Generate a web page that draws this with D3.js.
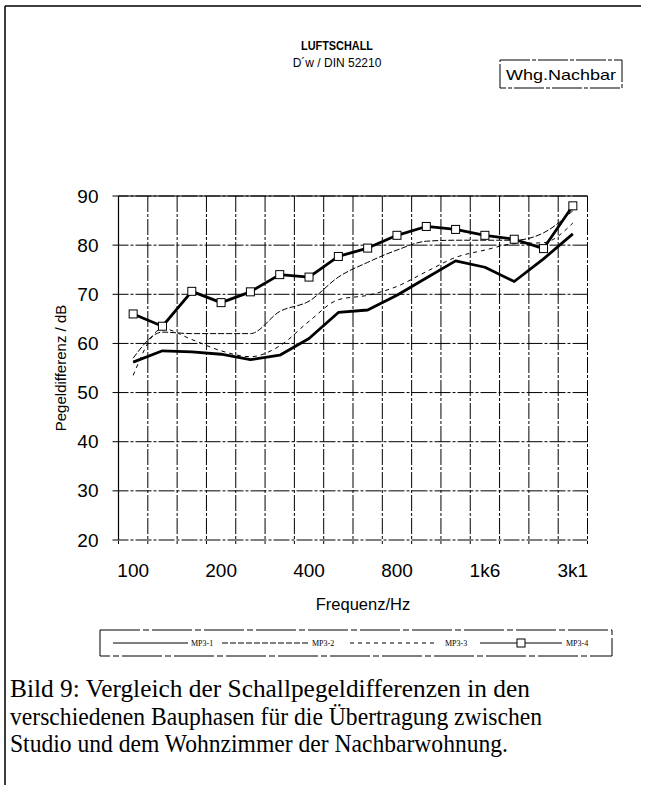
<!DOCTYPE html>
<meta charset="utf-8">
<style>
body { margin: 0; background: #fff; }
svg text { font-family: "Liberation Sans", Arial, sans-serif; fill: #000; }
.caption { font-family: "Liberation Serif", "Times New Roman", serif; font-size: 24.5px; }
.legend text { font-family: "Liberation Serif", serif; font-size: 8px; }
.grid line { stroke: #000; stroke-width: 1; stroke-dasharray: 16,2,3,2; }
</style>
<script src="https://d3js.org/d3.v7.min.js"></script>
<body>
<script>

// third-octave bands (categories)
var freqs = ["100","125","160","200","250","315","400","500","630","800","1000","1250","1600","2000","2500","3150"];
var freqLabels = ["100","","","200","","","400","","","800","","","1k6","","","3k1"];
var dbTicks = [20,30,40,50,60,70,80,90];

// Pegeldifferenz / dB
var mp31 = [56.2,58.5,58.3,57.8,56.7,57.6,61.0,66.3,66.8,69.8,73.3,76.8,75.5,72.6,77.2,82.3];
var mp32 = [57.0,62.3,62.0,62.0,62.0,66.5,68.6,73.5,76.5,79.0,80.8,81.0,81.0,81.0,82.5,87.0];
var mp33 = [53.5,63.0,60.8,58.5,57.3,59.5,64.5,68.9,69.8,71.6,74.6,77.5,79.0,80.3,80.5,84.5];
var mp34 = [66.0,63.5,70.6,68.3,70.5,74.0,73.5,77.7,79.4,82.0,83.8,83.2,82.0,81.2,79.3,88.0];

var series = [
  {name: "MP3-1", values: mp31, width: 2.8, dash: null, marker: false},
  {name: "MP3-2", values: mp32, width: 1, dash: "6,2", marker: false},
  {name: "MP3-3", values: mp33, width: 1, dash: "4,4", marker: false},
  {name: "MP3-4", values: mp34, width: 2.8, dash: null, marker: true}
];

var W = 645, H = 785;
var svg = d3.select("body").append("svg")
    .attr("width", W)
    .attr("height", H);

// frame of the figure
svg.append("line").attr("x1", 5).attr("y1", 6).attr("x2", 641).attr("y2", 6)
   .attr("stroke", "#000").attr("stroke-width", 1.5);
svg.append("line").attr("x1", 5).attr("y1", 6).attr("x2", 5).attr("y2", H)
   .attr("stroke", "#000").attr("stroke-width", 1.5);

// titles
svg.append("text").attr("x", 337).attr("y", 50).attr("text-anchor", "middle")
   .style("font-size", "12px").style("font-weight", "bold")
   .attr("textLength", 72).attr("lengthAdjust", "spacingAndGlyphs").text("LUFTSCHALL");
svg.append("text").attr("x", 337).attr("y", 67).attr("text-anchor", "middle")
   .style("font-size", "12px").text("D´w / DIN 52210");

svg.append("rect").attr("x", 500).attr("y", 60).attr("width", 122).attr("height", 28)
   .attr("fill", "none").attr("stroke", "#000").attr("stroke-dasharray", "30,2,4,2");
svg.append("text").attr("x", 561).attr("y", 80).attr("text-anchor", "middle")
   .attr("textLength", 110).attr("lengthAdjust", "spacingAndGlyphs")
   .style("font-size", "15px").text("Whg.Nachbar");

// scales
var plotL = 118.5, plotR = 587.5, plotT = 196, plotB = 540;
var x = d3.scaleBand().domain(freqs).range([plotL, plotR]).padding(0);
var y = d3.scaleLinear().domain([20, 90]).range([plotB, plotT]);
var cx = function(i) { return x(freqs[i]) + x.bandwidth() / 2; };

// grid
var grid = svg.append("g").attr("class", "grid");
grid.selectAll("line.h").data(dbTicks).enter().append("line")
    .attr("class", "h")
    .attr("x1", plotL - 6).attr("x2", plotR)
    .attr("y1", function(d) { return y(d); })
    .attr("y2", function(d) { return y(d); });
var edges = freqs.map(function(f) { return x(f); }).concat([plotR]);
grid.selectAll("line.v").data(edges).enter().append("line")
    .attr("class", "v")
    .attr("x1", function(d) { return d; }).attr("x2", function(d) { return d; })
    .attr("y1", plotT).attr("y2", plotB + 4);

// axis lines
svg.append("line").attr("x1", plotL).attr("x2", plotL).attr("y1", plotT).attr("y2", plotB)
   .attr("stroke", "#000").attr("stroke-width", 1.2);
svg.append("line").attr("x1", plotL).attr("x2", plotR).attr("y1", plotT).attr("y2", plotT)
   .attr("stroke", "#000").attr("stroke-width", 1.2);

// tick labels
var yAxis = d3.axisLeft(y).tickValues(dbTicks).tickSize(0).tickPadding(20);
svg.append("g").attr("transform", "translate(" + plotL + ",0)")
   .call(yAxis)
   .call(function(g) { g.select(".domain").remove(); })
   .selectAll("text").style("font-size", "19px").style("font-family", "Liberation Sans, Arial, sans-serif");

var xAxis = d3.axisBottom(x).tickSize(0).tickPadding(24)
   .tickFormat(function(d, i) { return freqLabels[i]; });
svg.append("g").attr("transform", "translate(0," + plotB + ")")
   .call(xAxis)
   .call(function(g) { g.select(".domain").remove(); })
   .selectAll("text").style("font-size", "19px").style("font-family", "Liberation Sans, Arial, sans-serif");

// axis titles
svg.append("text").attr("transform", "translate(66," + ((plotT + plotB) / 2) + ") rotate(-90)")
   .attr("text-anchor", "middle").style("font-size", "15px").text("Pegeldifferenz / dB");
svg.append("text").attr("x", 363).attr("y", 610).attr("text-anchor", "middle")
   .style("font-size", "16.5px").text("Frequenz/Hz");

// series: thick ones drawn straight, thin ones smoothed
var lineStraight = d3.line()
    .x(function(d, i) { return cx(i); })
    .y(function(d) { return y(d); });
var lineSmooth = d3.line()
    .x(function(d, i) { return cx(i); })
    .y(function(d) { return y(d); })
    .curve(d3.curveMonotoneX);

series.forEach(function(s) {
  svg.append("path").datum(s.values)
     .attr("d", s.width > 2 ? lineStraight : lineSmooth)
     .attr("fill", "none")
     .attr("stroke", "#000")
     .attr("stroke-width", s.width)
     .attr("stroke-linejoin", "round")
     .attr("stroke-dasharray", s.dash);
  if (s.marker) {
    svg.selectAll("rect.m").data(s.values).enter().append("rect")
       .attr("class", "m")
       .attr("x", function(d, i) { return cx(i) - 4; })
       .attr("y", function(d) { return y(d) - 4; })
       .attr("width", 8).attr("height", 8)
       .attr("fill", "#fff").attr("stroke", "#000").attr("stroke-width", 1);
  }
});

// legend
var lg = svg.append("g").attr("class", "legend");
lg.append("rect").attr("x", 100).attr("y", 630).attr("width", 512).attr("height", 26)
  .attr("fill", "none").attr("stroke", "#000").attr("stroke-dasharray", "40,3,6,3");
var legX = [[113, 188, 191], [222, 308, 312], [350, 435, 445], [480, 562, 566]];
series.forEach(function(s, k) {
  var p = legX[k];
  lg.append("line").attr("x1", p[0]).attr("x2", p[1]).attr("y1", 643).attr("y2", 643)
    .attr("stroke", "#000").attr("stroke-width", 1).attr("stroke-dasharray", s.dash);
  if (s.marker) {
    lg.append("rect").attr("x", (p[0] + p[1]) / 2 - 4).attr("y", 639).attr("width", 8).attr("height", 8)
      .attr("fill", "#fff").attr("stroke", "#000");
  }
  lg.append("text").attr("x", p[2]).attr("y", 646).text(s.name);
});

// caption
var caption = [
  "Bild 9: Vergleich der Schallpegeldifferenzen in den",
  "verschiedenen Bauphasen für die Übertragung zwischen",
  "Studio und dem Wohnzimmer der Nachbarwohnung."
];
var capLen = [520, 532, 498];
svg.selectAll("text.caption").data(caption).enter().append("text")
   .attr("class", "caption")
   .attr("x", 10)
   .attr("y", function(d, i) { return 697 + i * 27.5; })
   .attr("textLength", function(d, i) { return capLen[i]; })
   .attr("lengthAdjust", "spacingAndGlyphs")
   .text(function(d) { return d; });

</script>
